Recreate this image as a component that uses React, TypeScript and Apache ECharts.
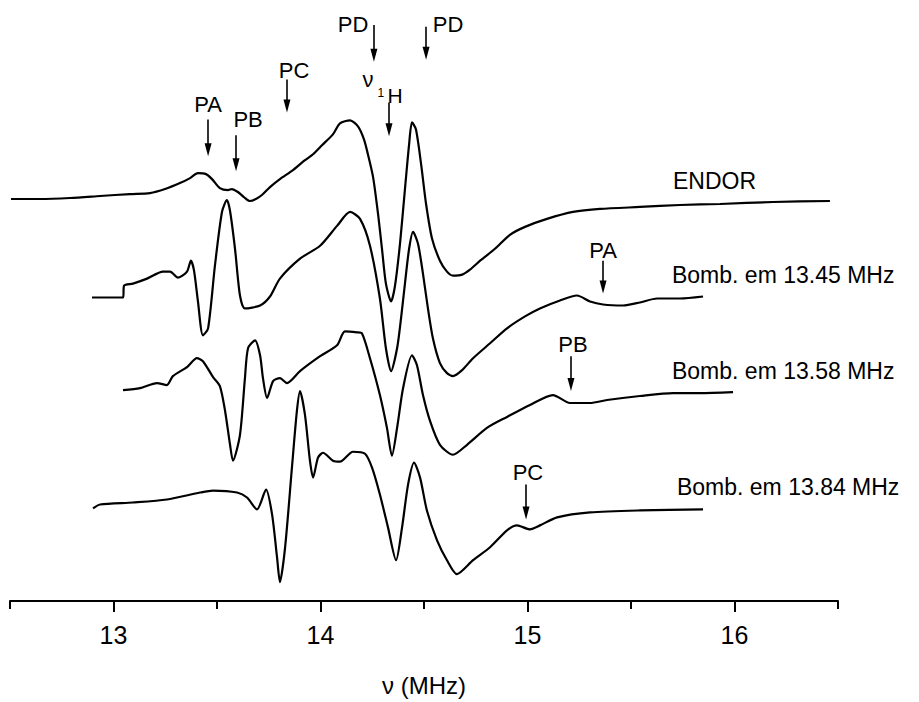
import React, { useEffect, useRef } from 'react';
import * as echarts from 'echarts';

const FONT = '"Liberation Sans", Arial, Helvetica, sans-serif';

// [frequency (MHz), intensity (a.u., relative to the trace's own baseline)]
const endorTrace: [number, number][] = [
  [12.505, 0], [12.645, 0], [12.790, 1], [12.935, 3], [13.080, 5], [13.176, 6], [13.249, 10], [13.321, 16],
  [13.370, 21], [13.408, 26], [13.447, 25], [13.476, 20], [13.514, 11], [13.553, 9], [13.572, 10], [13.601, 7],
  [13.630, 2], [13.659, -2], [13.688, 0], [13.717, 4], [13.756, 12], [13.804, 20], [13.867, 29], [13.925, 39],
  [13.964, 45], [14.007, 54], [14.060, 65], [14.094, 76], [14.143, 79], [14.181, 73], [14.210, 60], [14.229, 45],
  [14.254, 22], [14.278, -15], [14.297, -50], [14.316, -85], [14.341, -103], [14.360, -87], [14.384, -45],
  [14.408, 10], [14.428, 55], [14.442, 77], [14.461, 70], [14.486, 35], [14.510, -5], [14.539, -40], [14.577, -62],
  [14.611, -73], [14.640, -77], [14.684, -76], [14.722, -71], [14.771, -62], [14.843, -50], [14.915, -36],
  [14.988, -28], [15.094, -20], [15.220, -13], [15.350, -10], [15.543, -8], [15.737, -6], [15.930, -5],
  [16.186, -3], [16.461, -2],
];

const bomb1345Trace: [number, number][] = [
  [12.896, 0], [13.046, 0], [13.051, 12], [13.094, 14], [13.162, 19], [13.239, 26], [13.273, 26], [13.312, 20],
  [13.355, 26], [13.374, 37], [13.389, 27], [13.408, -4], [13.432, -38], [13.457, -31], [13.490, 32], [13.524, 86],
  [13.548, 98], [13.563, 87], [13.587, 49], [13.611, 2], [13.635, -11], [13.708, -8], [13.756, 1], [13.804, 19],
  [13.901, 39], [13.998, 52], [14.080, 72], [14.143, 86], [14.191, 79], [14.239, 52], [14.287, -1], [14.316, -51],
  [14.341, -74], [14.370, -51], [14.389, -21], [14.408, 14], [14.428, 49], [14.447, 66], [14.471, 54], [14.495, 24],
  [14.519, -11], [14.543, -41], [14.577, -66], [14.611, -76], [14.640, -79], [14.684, -73], [14.737, -61],
  [14.819, -46], [14.901, -31], [14.988, -19], [15.060, -11], [15.157, -3], [15.239, 2], [15.302, -4],
  [15.365, -7], [15.461, -8], [15.543, -5], [15.626, -1], [15.737, -1], [15.848, 1],
];

const bomb1358Trace: [number, number][] = [
  [13.046, 0], [13.128, 2], [13.210, 7], [13.258, 5], [13.287, 14], [13.355, 23], [13.403, 32], [13.432, 29],
  [13.481, 13], [13.514, 4], [13.539, -21], [13.563, -55], [13.577, -71], [13.611, -45], [13.635, 12], [13.650, 42],
  [13.684, 50], [13.708, 35], [13.722, 12], [13.742, -8], [13.771, 9], [13.804, 12], [13.838, 7], [13.901, 19],
  [13.998, 34], [14.080, 45], [14.118, 59], [14.176, 58], [14.200, 57], [14.239, 32], [14.287, -5], [14.321, -38],
  [14.345, -66], [14.370, -38], [14.399, 2], [14.442, 35], [14.466, 25], [14.495, -5], [14.529, -31], [14.577, -55],
  [14.640, -65], [14.708, -55], [14.804, -38], [14.901, -27], [15.012, -15], [15.123, -5], [15.205, -13],
  [15.302, -13], [15.384, -10], [15.543, -6], [15.703, -3], [15.833, -3], [15.993, -2],
];

const bomb1384Trace: [number, number][] = [
  [12.901, 0], [12.935, 4], [13.094, 6], [13.258, 9], [13.418, 16], [13.481, 18], [13.597, 16], [13.645, 11],
  [13.693, -1], [13.737, 19], [13.766, -6], [13.790, -49], [13.804, -74], [13.829, -39], [13.862, 41], [13.886, 98],
  [13.901, 118], [13.925, 94], [13.949, 48], [13.964, 31], [13.988, 51], [14.012, 56], [14.060, 48], [14.094, 47],
  [14.157, 57], [14.215, 55], [14.249, 41], [14.287, 14], [14.326, -19], [14.365, -52], [14.394, -19], [14.423, 24],
  [14.452, 46], [14.481, 31], [14.514, -2], [14.563, -32], [14.611, -52], [14.659, -66], [14.737, -52],
  [14.819, -39], [14.901, -22], [14.949, -17], [15.012, -21], [15.060, -17], [15.143, -9], [15.302, -4],
  [15.543, -2], [15.848, -1],
];

const traces = [endorTrace, bomb1345Trace, bomb1358Trace, bomb1384Trace];
const traceNames = ['ENDOR', 'Bomb. em 13.45 MHz', 'Bomb. em 13.58 MHz', 'Bomb. em 13.84 MHz'];
// vertical offsets used to stack the spectra (a.u.)
const traceOffsets = [404, 305, 212, 93];

const majorTicks = [13, 14, 15, 16];
const minorTicks = [12.5, 13.5, 14.5, 15.5, 16.5];

// arrow annotations: trace index, frequency, arrow top, arrow tip (absolute a.u.)
const arrows = [
  { trace: 0, freq: 13.457, from: 484, tip: 447 },
  { trace: 0, freq: 13.592, from: 468, tip: 432 },
  { trace: 0, freq: 13.838, from: 524, tip: 491 },
  { trace: 0, freq: 14.258, from: 579, tip: 542 },
  { trace: 0, freq: 14.510, from: 577, tip: 544 },
  { trace: 0, freq: 14.331, from: 501, tip: 467 },
  { trace: 1, freq: 15.365, from: 342, tip: 309 },
  { trace: 2, freq: 15.210, from: 246, tip: 211 },
  { trace: 3, freq: 14.993, from: 117, tip: 82 },
];

// text annotations: trace index, text, frequency, height (a.u.)
const peakLabels = [
  { trace: 0, text: 'PA', freq: 13.457, y: 499, size: 22 },
  { trace: 0, text: 'PB', freq: 13.650, y: 484, size: 22 },
  { trace: 0, text: 'PC', freq: 13.872, y: 533, size: 22 },
  { trace: 0, text: 'PD', freq: 14.157, y: 579, size: 22 },
  { trace: 0, text: 'PD', freq: 14.616, y: 579, size: 22 },
  { trace: 0, text: 'ν', freq: 14.229, y: 524, size: 22 },
  { trace: 0, text: '1', freq: 14.292, y: 511, size: 12 },
  { trace: 0, text: 'H', freq: 14.360, y: 508, size: 21 },
  { trace: 1, text: 'PA', freq: 15.365, y: 352, size: 22 },
  { trace: 2, text: 'PB', freq: 15.220, y: 258, size: 22 },
  { trace: 3, text: 'PC', freq: 15.002, y: 129, size: 22 },
];

// series name labels: left edge frequency and height (a.u.)
const nameLabelPos = [
  { freq: 15.703, y: 422 },
  { freq: 15.698, y: 328 },
  { freq: 15.698, y: 231 },
  { freq: 15.722, y: 115 },
];

const ARROW_H = 13;

export default function App() {
  const ref = useRef<HTMLDivElement>(null);
  useEffect(() => {
    const chart = echarts.init(ref.current!, null, { renderer: 'svg' });
    const textStyle = (size: number) => ({
      show: true,
      formatter: '{b}',
      color: '#000',
      fontFamily: FONT,
      fontSize: size,
      textBorderWidth: 0,
      textBorderColor: 'transparent',
      textShadowBlur: 0,
    });
    const series = traces.map((tr, i) => ({
      type: 'line',
      name: traceNames[i],
      data: tr.map(([f, a]) => [f, traceOffsets[i] + a]),
      showSymbol: false,
      symbol: 'none',
      silent: true,
      smooth: 0.25,
      color: '#000',
      lineStyle: { color: '#000', width: 2.2 },
      emphasis: { disabled: true },
      markLine: {
        silent: true,
        symbol: ['none', 'triangle'],
        symbolSize: [7, ARROW_H],
        lineStyle: { color: '#000', width: 1.6, type: 'solid' },
        itemStyle: { color: '#000' },
        label: { show: false },
        emphasis: { disabled: true },
        data: arrows
          .filter((a) => a.trace === i)
          .map((a) => [{ coord: [a.freq, a.from] }, { coord: [a.freq, a.tip + ARROW_H / 2] }]),
      },
      markPoint: {
        silent: true,
        symbol: 'circle',
        symbolSize: 0,
        itemStyle: { color: 'transparent' },
        emphasis: { disabled: true },
        data: [
          ...peakLabels
            .filter((p) => p.trace === i)
            .map((p) => ({
              coord: [p.freq, p.y],
              name: p.text,
              label: { ...textStyle(p.size), position: 'inside' },
            })),
          {
            coord: [nameLabelPos[i].freq, nameLabelPos[i].y],
            name: traceNames[i],
            label: { ...textStyle(23), position: 'right', distance: 0 },
          },
        ],
      },
    }));

    chart.setOption({
      animation: false,
      grid: { left: 10, right: 81, top: 0, bottom: 98 },
      xAxis: [
        {
          type: 'value',
          min: 12.5,
          max: 16.5,
          position: 'bottom',
          name: 'ν (MHz)',
          nameLocation: 'middle',
          nameGap: 72,
          nameTextStyle: { color: '#000', fontFamily: FONT, fontSize: 24 },
          axisLine: { show: true, onZero: false, lineStyle: { color: '#000', width: 2 } },
          axisTick: { show: true, customValues: majorTicks, length: 11, lineStyle: { color: '#000', width: 2 } },
          axisLabel: {
            show: true,
            customValues: majorTicks,
            margin: 21,
            color: '#000',
            fontFamily: FONT,
            fontSize: 25,
          },
          splitLine: { show: false },
        },
        {
          type: 'value',
          min: 12.5,
          max: 16.5,
          position: 'bottom',
          axisLine: { show: false, onZero: false },
          axisTick: { show: true, customValues: minorTicks, length: 8, lineStyle: { color: '#000', width: 2 } },
          axisLabel: { show: false },
          splitLine: { show: false },
        },
      ],
      yAxis: { type: 'value', min: 0, max: 604, show: false },
      series,
    });
    return () => chart.dispose();
  }, []);
  return (
    <div
      ref={ref}
      style={{ position: 'absolute', left: 0, top: 0, width: 919, height: 702, background: '#fff' }}
    />
  );
}
